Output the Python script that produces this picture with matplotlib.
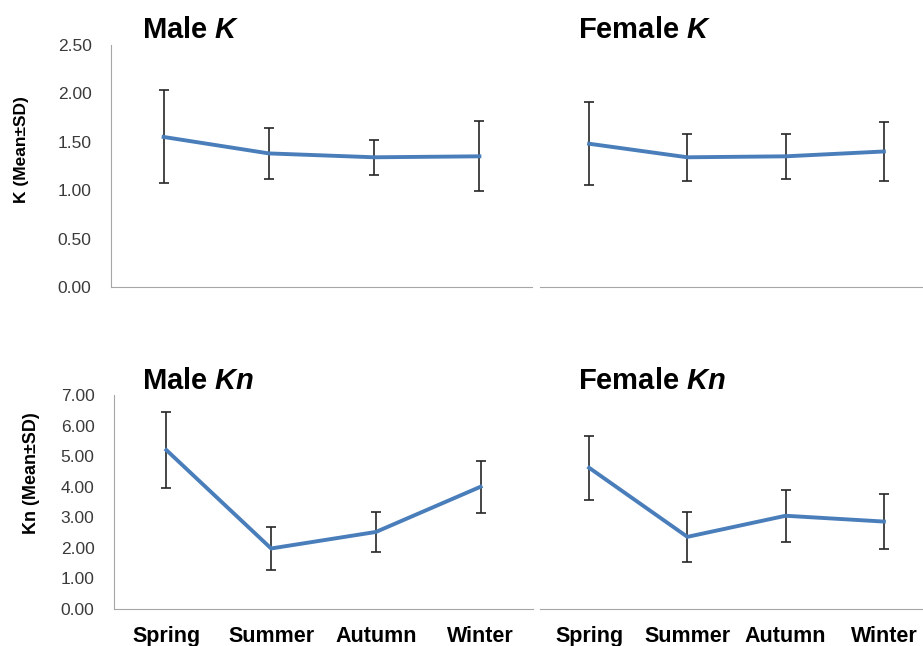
import matplotlib.pyplot as plt
import numpy as np

plt.rcParams['font.family'] = ['Liberation Sans', 'DejaVu Sans']
plt.rcParams['mathtext.fontset'] = 'custom'
plt.rcParams['mathtext.it'] = 'Liberation Sans:bold:italic'
plt.rcParams['mathtext.rm'] = 'Liberation Sans:bold'

seasons = ['Spring', 'Summer', 'Autumn', 'Winter']

# condition factor K (mean, SD)
male_k = [1.55, 1.38, 1.34, 1.35]
male_k_sd = [0.48, 0.26, 0.18, 0.36]
female_k = [1.48, 1.34, 1.35, 1.40]
female_k_sd = [0.43, 0.24, 0.23, 0.30]

# relative condition factor Kn (mean, SD)
male_kn = [5.20, 1.98, 2.52, 4.00]
male_kn_sd = [1.23, 0.70, 0.64, 0.85]
female_kn = [4.62, 2.36, 3.05, 2.86]
female_kn_sd = [1.05, 0.82, 0.85, 0.91]

W, H = 923, 646
fig = plt.figure(figsize=(W / 100, H / 100), dpi=100)


def px_axes(x0, x1, ytop, ybot):
    # pixel box -> figure fraction
    return fig.add_axes([x0 / W, 1 - ybot / H, (x1 - x0) / W, (ybot - ytop) / H])


line_color = '#4a7ebb'
spine_color = '#a6a6a6'


def draw_panel(ax, mean, sd, ymax, ystep, show_y, show_x):
    x = np.arange(len(seasons))
    ax.errorbar(x, mean, yerr=sd, color=line_color, lw=2.8, ecolor='#262626',
                elinewidth=1.2, capsize=3.5, capthick=1.2, zorder=3)
    ax.set_xlim(-0.5, 3.5)
    ax.set_ylim(0, ymax)
    for s in ['top', 'right']:
        ax.spines[s].set_visible(False)
    ax.spines['bottom'].set_color(spine_color)
    ax.spines['left'].set_color(spine_color)
    ax.spines['left'].set_visible(show_y)
    ax.set_xticks(x)
    if show_x:
        ax.set_xticklabels(seasons, fontsize=15.5, fontweight='bold')
    else:
        ax.set_xticklabels([])
    ax.tick_params(axis='x', length=0, pad=12)
    ticks = np.arange(0, ymax + ystep / 2, ystep)
    ax.set_yticks(ticks)
    if show_y:
        ax.set_yticklabels(['%.2f' % t for t in ticks], fontsize=12.5, color='#3a3a3a')
    else:
        ax.set_yticklabels([])
    ax.tick_params(axis='y', length=0, pad=14)
    ax.patch.set_alpha(0.0)


ax1 = px_axes(111, 532, 45, 287)
draw_panel(ax1, male_k, male_k_sd, 2.5, 0.5, True, False)
ax2 = px_axes(540, 933, 45, 287)
draw_panel(ax2, female_k, female_k_sd, 2.5, 0.5, False, False)
ax3 = px_axes(114, 533, 395, 609)
draw_panel(ax3, male_kn, male_kn_sd, 7, 1, True, True)
ax4 = px_axes(540, 933, 395, 609)
draw_panel(ax4, female_kn, female_kn_sd, 7, 1, False, True)

title_kw = dict(fontsize=21, fontweight='bold', va='center', ha='left')
fig.text(142 / W, 1 - 30 / H, r'Male $K$', **title_kw)
fig.text(578 / W, 1 - 30 / H, r'Female $K$', **title_kw)
fig.text(142 / W, 1 - 381 / H, r'Male $Kn$', **title_kw)
fig.text(578 / W, 1 - 381 / H, r'Female $Kn$', **title_kw)

fig.text(22 / W, 1 - 150 / H, 'K (Mean±SD)', rotation=90, fontsize=12.5,
         fontweight='bold', ha='center', va='center')
fig.text(32 / W, 1 - 473 / H, 'Kn (Mean±SD)', rotation=90, fontsize=13,
         fontweight='bold', ha='center', va='center')

fig.savefig('out.png', dpi=100)
